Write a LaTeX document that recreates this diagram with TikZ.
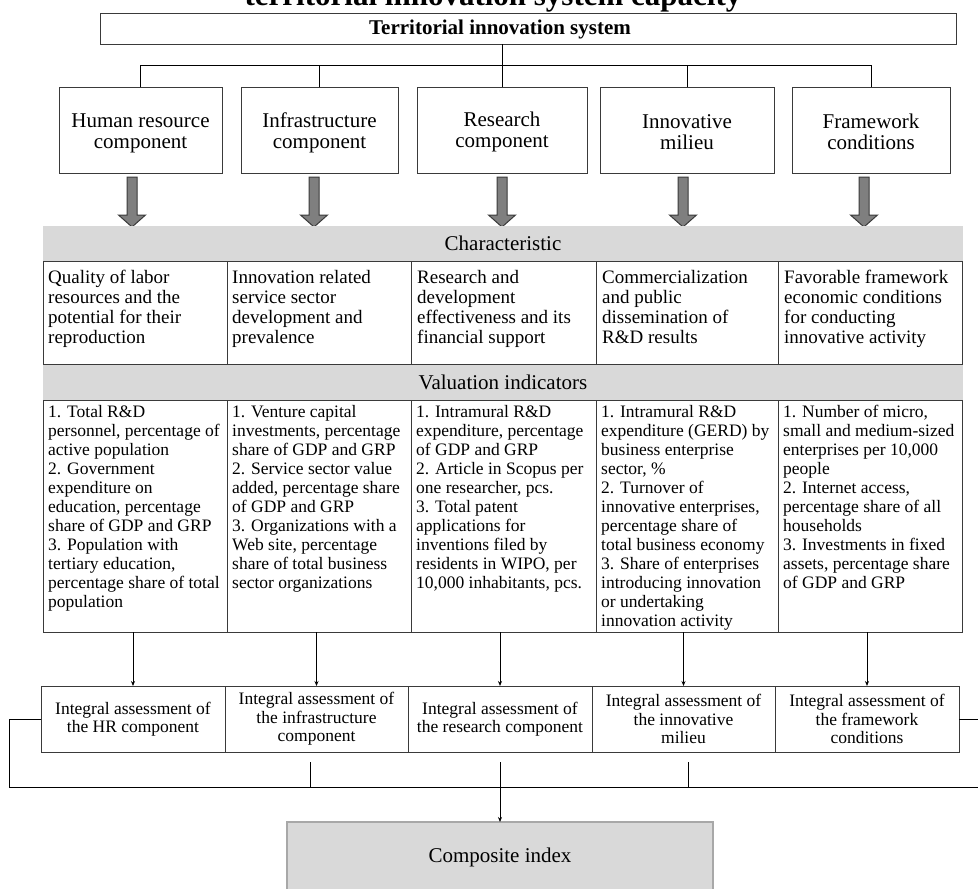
\documentclass[tikz,border=0pt]{standalone}
\usepackage{fontspec}
\setmainfont{Liberation Serif}
\usetikzlibrary{arrows.meta,calc}
\definecolor{bandgray}{HTML}{D9D9D9}
\definecolor{edgegray}{HTML}{3A3A3A}
\definecolor{arrgray}{HTML}{7F7F7F}
\definecolor{compedge}{HTML}{A8A8A8}
\tikzset{
  x=1pt, y=-1pt,
  boxA/.style={draw=edgegray, line width=1pt, fill=white, inner sep=0pt, outer sep=0pt, anchor=north west, align=center},
  comptext/.style={inner sep=0pt, align=center, font=\fontsize{21}{21}\selectfont},
  bandbox/.style={fill=bandgray, draw=none, inner sep=0pt, outer sep=0pt, anchor=north west, font=\fontsize{21}{21}\selectfont},
  cellbox/.style={draw=edgegray, line width=1pt, inner sep=0pt, outer sep=0pt, anchor=north west},
  chartext/.style={anchor=north west, inner sep=0pt, align=left, font=\fontsize{19}{20}\selectfont},
  indtext/.style={anchor=north west, inner sep=0pt, align=left, font=\fontsize{17.5}{19}\selectfont},
  assbox/.style={boxA, font=\fontsize{17.5}{18.5}\selectfont},
  conn/.style={draw=black, line width=0.9pt},
  thinarrow/.style={conn, -{Stealth[length=5pt,width=4pt]}},
  blockarrow/.style={fill=arrgray, draw=edgegray, line width=1pt, line join=miter},
}
\begin{document}
\begin{tikzpicture}
\useasboundingbox (0,0) rectangle (978,889);
\clip (0,0) rectangle (978,889);
\fill[white] (0,0) rectangle (978,889);

% cut-off heading
\node[anchor=base, inner sep=0pt, font=\bfseries\fontsize{31}{31}\selectfont] (heading) at (493,5) {territorial innovation system capacity};

% top box
\node[boxA, minimum width=856, minimum height=31] (tis) at (100,13) {};
\node[inner sep=0pt, font=\bfseries\fontsize{21}{21}\selectfont] (tistext) at (500,29) {Territorial innovation system};

% component boxes
\node[boxA, minimum width=163, minimum height=86] (c1) at (59,87) {};
\node[boxA, minimum width=157, minimum height=86] (c2) at (241,87) {};
\node[boxA, minimum width=170, minimum height=86] (c3) at (417,87) {};
\node[boxA, minimum width=174, minimum height=86] (c4) at (600,87) {};
\node[boxA, minimum width=158, minimum height=86] (c5) at (792,87) {};
\node[comptext] (ct1) at ($(c1.center)+(0,3)$) {Human resource\\component};
\node[comptext] (ct2) at ($(c2.center)+(0,3)$) {Infrastructure\\component};
\node[comptext] (ct3) at ($(c3.center)+(0,2)$) {Research\\component};
\node[comptext] (ct4) at ($(c4.center)+(0,2)$) {Innovative\\milieu};
\node[comptext] (ct5) at ($(c5.center)+(0,2)$) {Framework\\conditions};

% tree
\coordinate (hy) at (0,65);
\draw[conn] (tis.south -| c3.north) -- (c3.north);
\draw[conn] (c1.north) -- (c1.north |- hy) -- (c5.north |- hy) -- (c5.north);
\draw[conn] (c2.north) -- (c2.north |- hy);
\draw[conn] (c4.north) -- (c4.north |- hy);

% block arrows
\foreach \x in {132,314,502,683,864}{
  \draw[blockarrow] ({\x-5},177) -- ({\x+5},177) -- ({\x+5},215) -- ({\x+13.5},215) -- (\x,227) -- ({\x-13.5},215) -- ({\x-5},215) -- cycle;
}

% bands
\node[bandbox, minimum width=920, minimum height=35] (charband) at (43,226) {Characteristic};
\node[bandbox, minimum width=920, minimum height=36] (valband) at (43,364) {Valuation indicators};

% characteristic cells
\node[cellbox, minimum width=184, minimum height=103] (ch1) at (43,261) {};
\node[cellbox, minimum width=184, minimum height=103] (ch2) at (227,261) {};
\node[cellbox, minimum width=185, minimum height=103] (ch3) at (411,261) {};
\node[cellbox, minimum width=182, minimum height=103] (ch4) at (596,261) {};
\node[cellbox, minimum width=184, minimum height=103] (ch5) at (778,261) {};

\node[chartext] (cht1) at (48,270) {Quality of labor\\resources and the\\potential for their\\reproduction};
\node[chartext] (cht2) at (232,270) {Innovation related\\service sector\\development and\\prevalence};
\node[chartext] (cht3) at (417,270) {Research and\\development\\effectiveness and its\\financial support};
\node[chartext] (cht4) at (602,270) {Commercialization\\and public\\dissemination of\\R\&D results};
\node[chartext] (cht5) at (784,270) {Favorable framework\\economic conditions\\for conducting\\innovative activity};

% indicator cells
\node[cellbox, minimum width=184, minimum height=232] (in1) at (43,400) {};
\node[cellbox, minimum width=184, minimum height=232] (in2) at (227,400) {};
\node[cellbox, minimum width=185, minimum height=232] (in3) at (411,400) {};
\node[cellbox, minimum width=182, minimum height=232] (in4) at (596,400) {};
\node[cellbox, minimum width=184, minimum height=232] (in5) at (778,400) {};

\node[indtext] (int1) at (48,405) {1. Total R\&D\\personnel, percentage of\\active population\\2. Government\\expenditure on\\education, percentage\\share of GDP and GRP\\3. Population with\\tertiary education,\\percentage share of total\\population};
\node[indtext] (int2) at (232,405) {1. Venture capital\\investments, percentage\\share of GDP and GRP\\2. Service sector value\\added, percentage share\\of GDP and GRP\\3. Organizations with a\\Web site, percentage\\share of total business\\sector organizations};
\node[indtext] (int3) at (416,405) {1. Intramural R\&D\\expenditure, percentage\\of GDP and GRP\\2. Article in Scopus per\\one researcher, pcs.\\3. Total patent\\applications for\\inventions filed by\\residents in WIPO, per\\10,000 inhabitants, pcs.};
\node[indtext] (int4) at (601,405) {1. Intramural R\&D\\expenditure (GERD) by\\business enterprise\\sector, \%\\2. Turnover of\\innovative enterprises,\\percentage share of\\total business economy\\3. Share of enterprises\\introducing innovation\\or undertaking\\innovation activity};
\node[indtext] (int5) at (783,405) {1. Number of micro,\\small and medium-sized\\enterprises per 10,000\\people\\2. Internet access,\\percentage share of all\\households\\3. Investments in fixed\\assets, percentage share\\of GDP and GRP};

% assessment boxes
\node[assbox, minimum width=184, minimum height=66] (a1) at (41,686) {Integral assessment of\\the HR component};
\node[assbox, minimum width=183, minimum height=66] (a2) at (225,686) {Integral assessment of\\the infrastructure\\component};
\node[assbox, minimum width=184, minimum height=66] (a3) at (408,686) {Integral assessment of\\the research component};
\node[assbox, minimum width=183, minimum height=66] (a4) at (592,686) {Integral assessment of\\the innovative\\milieu};
\node[assbox, minimum width=184, minimum height=66] (a5) at (775,686) {Integral assessment of\\the framework\\conditions};

% arrows from indicators to assessments
\draw[thinarrow] (in1.south -| a1.north) -- (a1.north);
\draw[thinarrow] (in2.south -| a2.north) -- (a2.north);
\draw[thinarrow] (in3.south -| a3.north) -- (a3.north);
\draw[thinarrow] (in4.south -| a4.north) -- (a4.north);
\draw[thinarrow] (in5.south -| a5.north) -- (a5.north);

% composite
\node[boxA, fill=bandgray, draw=compedge, line width=1.3pt, minimum width=426, minimum height=70, font=\fontsize{21}{21}\selectfont] (comp) at (287,822) {Composite index};

% bottom collector
\coordinate (bl) at (9,787);
\coordinate (br) at (990,787);
\coordinate (s1) at (310,762);
\coordinate (s2) at (500,762);
\coordinate (s3) at (688,762);
\draw[conn] (a1.west) -| (bl) -- (br);
\draw[conn] (a5.east) -- (a5.east -| br);
\draw[conn] (s1) -- (s1 |- bl);
\draw[conn] (s2) -- (s2 |- bl);
\draw[conn] (s3) -- (s3 |- bl);
\draw[thinarrow] (s2 |- bl) -- (comp.north);
\end{tikzpicture}
\end{document}
